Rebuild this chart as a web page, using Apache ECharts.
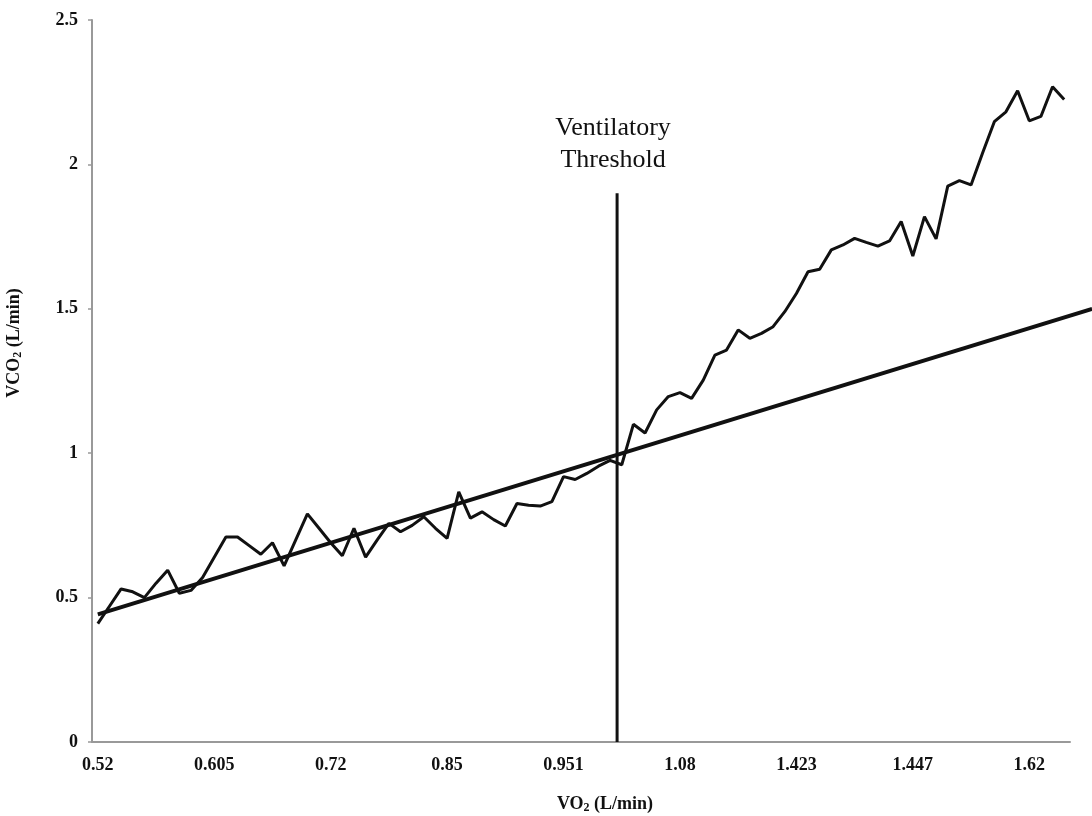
<!DOCTYPE html>
<html>
<head>
<meta charset="utf-8">
<script src="https://cdn.jsdelivr.net/npm/echarts@6/dist/echarts.min.js"></script>
<style>
  html, body { margin: 0; padding: 0; background: #fff; }
  #chart { width: 1092px; height: 816px; }
</style>
</head>
<body>
<div id="chart"></div>
<script>
// VO2 tick labels, one every 10 samples
const vo2Labels = ["0.52", "0.605", "0.72", "0.85", "0.951", "1.08", "1.423", "1.447", "1.62"];

// measured VCO2 (L/min), one value per sample
const vco2 = [
  0.41, 0.47, 0.53, 0.52, 0.50, 0.55, 0.595, 0.515, 0.525, 0.57,
  0.64, 0.71, 0.71, 0.68, 0.65, 0.69, 0.61, 0.70, 0.79, 0.74,
  0.69, 0.645, 0.74, 0.64, 0.70, 0.757, 0.728, 0.75, 0.78, 0.74,
  0.705, 0.866, 0.775, 0.797, 0.77, 0.748, 0.826, 0.82, 0.817, 0.832,
  0.919, 0.909, 0.93, 0.955, 0.975, 0.96, 1.10, 1.07, 1.15, 1.196,
  1.21, 1.19, 1.253, 1.34, 1.357, 1.427, 1.398, 1.415, 1.438, 1.49,
  1.553, 1.628, 1.637, 1.704, 1.721, 1.744, 1.73, 1.717, 1.735, 1.802,
  1.683, 1.819, 1.742, 1.925, 1.944, 1.929, 2.04, 2.148, 2.182, 2.255,
  2.151, 2.166, 2.269, 2.225
];

// linear trend, in sample-index units
const trendX = [0, 85.4];
const trendY = [0.442, 1.50];

// ventilatory threshold position (sample index) and line height
const vtX = 44.6;
const vtY = [0, 1.9];

const categories = vco2.map((_, i) => (i % 10 === 0 ? vo2Labels[i / 10] : String(i)));

const serif = "Liberation Serif";
const ink = "#111";

const chart = echarts.init(document.getElementById("chart"));
chart.setOption({
  animation: false,
  grid: [
    { left: 92, top: 20, width: 978, height: 722, outerBoundsMode: "none", containLabel: false },
    { left: 92, top: 20, width: 1000, height: 722, outerBoundsMode: "none", containLabel: false },
  ],
  xAxis: [
    {
      type: "category",
      gridIndex: 0,
      data: categories,
      boundaryGap: true,
      name: "VO{sub|2} (L/min)",
      nameLocation: "middle",
      nameGap: 52,
      nameTextStyle: {
        fontFamily: serif, fontWeight: "bold", fontSize: 18, color: ink,
        padding: [0, 0, 0, 48],
        rich: { sub: { fontFamily: serif, fontWeight: "bold", fontSize: 12, color: ink, verticalAlign: "bottom", padding: [8, 0, 0, 0] } },
      },
      axisLine: { lineStyle: { color: "#999", width: 2 } },
      axisTick: { interval: 1, length: 5, lineStyle: { color: "#999", width: 1.5 } },
      axisLabel: {
        interval: 9, margin: 14,
        fontFamily: serif, fontWeight: "bold", fontSize: 18, color: ink,
      },
      splitLine: { show: false },
    },
    {
      type: "value",
      gridIndex: 1,
      min: -0.5,
      max: -0.5 + 1000 / (978 / 84),
      show: false,
    },
  ],
  yAxis: [
    {
      type: "value",
      gridIndex: 0,
      min: 0,
      max: 2.5,
      interval: 0.5,
      name: "VCO{sub|2} (L/min)",
      nameLocation: "middle",
      nameRotate: 90,
      nameGap: 68,
      nameTextStyle: {
        fontFamily: serif, fontWeight: "bold", fontSize: 18, color: ink,
        padding: [0, 0, 0, 76],
        rich: { sub: { fontFamily: serif, fontWeight: "bold", fontSize: 12, color: ink, verticalAlign: "bottom", padding: [8, 0, 0, 0] } },
      },
      axisLine: { show: true, lineStyle: { color: "#999", width: 2 } },
      axisTick: { show: true, length: 4, lineStyle: { color: "#999", width: 1.5 } },
      axisLabel: { margin: 14, fontFamily: serif, fontWeight: "bold", fontSize: 18, color: ink },
      splitLine: { show: false },
    },
    { type: "value", gridIndex: 1, min: 0, max: 2.5, show: false },
  ],
  series: [
    {
      name: "VCO2",
      type: "line",
      xAxisIndex: 0,
      yAxisIndex: 0,
      data: vco2,
      symbol: "none",
      lineStyle: { color: ink, width: 3 },
      z: 3,
    },
    {
      name: "Trend",
      type: "line",
      xAxisIndex: 1,
      yAxisIndex: 1,
      data: trendX.map((x, i) => [x, trendY[i]]),
      symbol: "none",
      clip: false,
      lineStyle: { color: ink, width: 4 },
      z: 4,
    },
    {
      name: "Threshold",
      type: "line",
      xAxisIndex: 1,
      yAxisIndex: 1,
      data: vtY.map((y) => [vtX, y]),
      symbol: "circle",
      symbolSize: 0,
      showSymbol: true,
      label: {
        show: true,
        position: "top",
        distance: 17,
        formatter: (p) => (p.dataIndex === vtY.length - 1 ? "Ventilatory\nThreshold" : ""),
        fontFamily: serif, fontSize: 26, lineHeight: 32, color: ink, align: "center",
        offset: [-4, 0],
      },
      lineStyle: { color: ink, width: 3 },
      z: 5,
    },
  ],
});
</script>
</body>
</html>
